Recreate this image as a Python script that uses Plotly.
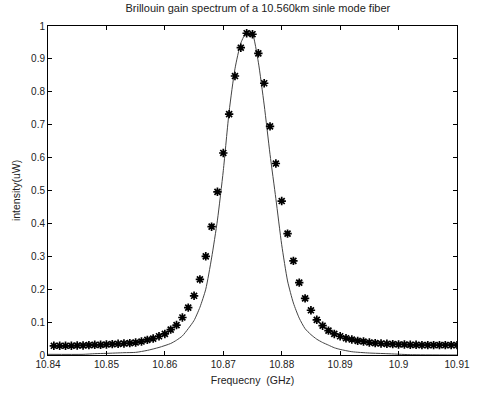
import plotly.graph_objects as go

# Measured data (asterisks)
freq_meas = [10.841, 10.842, 10.843, 10.844, 10.845, 10.846, 10.847, 10.848, 10.849, 10.850,
             10.851, 10.852, 10.853, 10.854, 10.855, 10.856, 10.857, 10.858, 10.859, 10.860,
             10.861, 10.862, 10.863, 10.864, 10.865, 10.866, 10.867, 10.868, 10.869, 10.870,
             10.871, 10.872, 10.873, 10.874, 10.875, 10.876, 10.877, 10.878, 10.879, 10.880,
             10.881, 10.882, 10.883, 10.884, 10.885, 10.886, 10.887, 10.888, 10.889, 10.890,
             10.891, 10.892, 10.893, 10.894, 10.895, 10.896, 10.897, 10.898, 10.899, 10.900,
             10.901, 10.902, 10.903, 10.904, 10.905, 10.906, 10.907, 10.908, 10.909, 10.910]
intensity_meas = [0.028, 0.028, 0.028, 0.028, 0.029, 0.029, 0.030, 0.031, 0.031, 0.032,
                  0.033, 0.034, 0.035, 0.036, 0.038, 0.041, 0.046, 0.050, 0.057, 0.064,
                  0.077, 0.091, 0.114, 0.144, 0.180, 0.230, 0.300, 0.390, 0.496, 0.614,
                  0.732, 0.848, 0.934, 0.978, 0.975, 0.917, 0.826, 0.695, 0.582, 0.468,
                  0.369, 0.286, 0.220, 0.172, 0.136, 0.107, 0.089, 0.074, 0.064, 0.057,
                  0.051, 0.047, 0.043, 0.041, 0.038, 0.036, 0.035, 0.034, 0.033, 0.032,
                  0.032, 0.031, 0.031, 0.030, 0.030, 0.030, 0.030, 0.030, 0.030, 0.030]

# Fitted curve (solid line)
freq_fit = [10.840, 10.846, 10.848, 10.850, 10.853, 10.855, 10.857, 10.859, 10.861, 10.862,
            10.863, 10.864, 10.865, 10.866, 10.867, 10.868, 10.869, 10.870, 10.871, 10.872,
            10.873, 10.874, 10.8745, 10.875, 10.876, 10.877, 10.878, 10.879, 10.880, 10.881,
            10.882, 10.883, 10.884, 10.885, 10.886, 10.887, 10.888, 10.889, 10.890, 10.892,
            10.895, 10.898, 10.902, 10.910]
intensity_fit = [0.002, 0.002, 0.004, 0.005, 0.007, 0.008, 0.014, 0.023, 0.035, 0.045,
                 0.058, 0.080, 0.105, 0.145, 0.200, 0.295, 0.410, 0.560, 0.740, 0.870,
                 0.948, 0.983, 0.986, 0.978, 0.890, 0.760, 0.610, 0.475, 0.335, 0.225,
                 0.158, 0.112, 0.080, 0.062, 0.048, 0.038, 0.030, 0.022, 0.017, 0.010,
                 0.006, 0.004, 0.001, 0.000]

x_ticks = [10.84, 10.85, 10.86, 10.87, 10.88, 10.89, 10.90, 10.91]
x_tick_labels = ["10.84", "10.85", "10.86", "10.87", "10.88", "10.89", "10.9", "10.91"]
y_ticks = [0, 0.1, 0.2, 0.3, 0.4, 0.5, 0.6, 0.7, 0.8, 0.9, 1]
y_tick_labels = ["0", "0.1", "0.2", "0.3", "0.4", "0.5", "0.6", "0.7", "0.8", "0.9", "1"]

fig = go.Figure()
fig.add_trace(go.Scatter(
    x=freq_fit, y=intensity_fit, mode="lines",
    line=dict(color="#444444", width=1, shape="spline", smoothing=0.6),
    showlegend=False, hoverinfo="skip"))
fig.add_trace(go.Scatter(
    x=freq_meas, y=intensity_meas, mode="markers",
    marker=dict(symbol="asterisk-open", size=7, color="black",
                line=dict(color="black", width=1.7)),
    showlegend=False))

font_family = "Liberation Sans, Arial, sans-serif"
axis_common = dict(
    showgrid=False, zeroline=False, showline=True, linecolor="black", linewidth=1,
    mirror="allticks", ticks="inside", ticklen=4, tickcolor="black",
    tickfont=dict(family=font_family, size=10, color="#222"),
)

fig.update_layout(
    width=482, height=396,
    margin=dict(l=48, r=13, t=26, b=40),
    paper_bgcolor="white", plot_bgcolor="white",
    title=dict(text="Brillouin gain spectrum of a 10.560km sinle mode fiber",
               x=0.535, xanchor="center", y=0.99, yanchor="top",
               font=dict(family=font_family, size=11, color="#222")),
    xaxis=dict(range=[10.84, 10.91], tickvals=x_ticks, ticktext=x_tick_labels,
               title=dict(text="Frequecny  (GHz)", standoff=7,
                          font=dict(family=font_family, size=10.5, color="#222")),
               **axis_common),
    yaxis=dict(range=[0, 1], tickvals=y_ticks, ticktext=y_tick_labels,
               title=dict(text="intensity(uW)", standoff=8,
                          font=dict(family=font_family, size=10.5, color="#222")),
               **axis_common),
)

fig.write_html("out.html")
